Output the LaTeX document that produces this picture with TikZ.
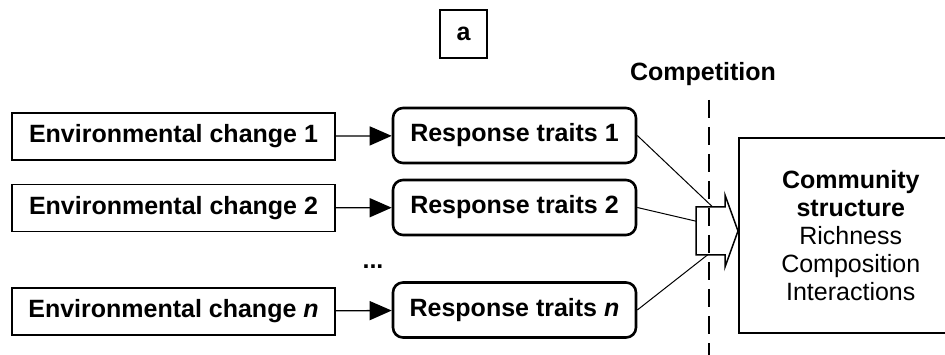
\documentclass[tikz,border=0pt]{standalone}
\usepackage{fontspec}
\setmainfont{Liberation Sans}
\usetikzlibrary{arrows.meta}
\begin{document}
\begin{tikzpicture}[x=1pt,y=-1pt,
  font=\fontsize{25}{28}\selectfont\bfseries,
  envbox/.style={draw, line width=1.5pt, minimum width=323pt, minimum height=47pt, inner sep=0pt},
  rtbox/.style={draw, line width=2.6pt, rounded corners=10pt, minimum width=243pt, minimum height=55pt, inner sep=0pt},
  conn/.style={line width=1.3pt, -{Triangle[length=22pt,width=19pt]}},
  thinline/.style={line width=1pt},
  compline/.style={line width=1.5pt, dash pattern=on 18pt off 9pt}]
\useasboundingbox (0,0) rectangle (945,355);
\clip (0,0) rectangle (945,355);
\node[draw, line width=1.5pt, minimum width=47pt, minimum height=48pt, inner sep=0pt] (a) at (463.5,34) {a};
\node (comp) at (703,74) {Competition};
\node[envbox] (e1) at (173.5,136.5) {Environmental change 1};
\node[envbox] (e2) at (173.5,208) {Environmental change 2};
\node[envbox] (en) at (173.5,311.5) {Environmental change \textit{n}};
\node[rtbox] (r1) at (514.5,135.5) {Response traits 1};
\node[rtbox] (r2) at (514.5,207.5) {Response traits 2};
\node[rtbox] (rn) at (514.5,310) {Response traits \textit{n}};
\node[anchor=base, inner sep=0pt] (dots) at (373,269) {...};
\draw[conn] (e1) -- (r1);
\draw[conn] (e2) -- (r2);
\draw[conn] (en) -- (rn);
\coordinate (tip) at (738,231);
\draw[thinline] (r1.east) -- (tip);
\draw[thinline] (r2.east) -- (tip);
\draw[thinline] (rn.east) -- (tip);
\draw[line width=1.5pt, fill=white, line join=miter]
  (696,207) -- (725,207) -- (725,195) -- (tip) -- (725,267) -- (725,255) -- (696,255) -- cycle;
\node[draw, line width=1.5pt, anchor=west, minimum width=224pt, minimum height=195pt,
  align=center, inner sep=0pt] (cs) at (738,235.5)
  {Community\\structure\\\mdseries Richness\\\mdseries Composition\\\mdseries Interactions};
\coordinate (dtop) at (709,100);
\coordinate (dbot) at (709,362);
\draw[compline] (dtop) -- (dbot);
\end{tikzpicture}
\end{document}
